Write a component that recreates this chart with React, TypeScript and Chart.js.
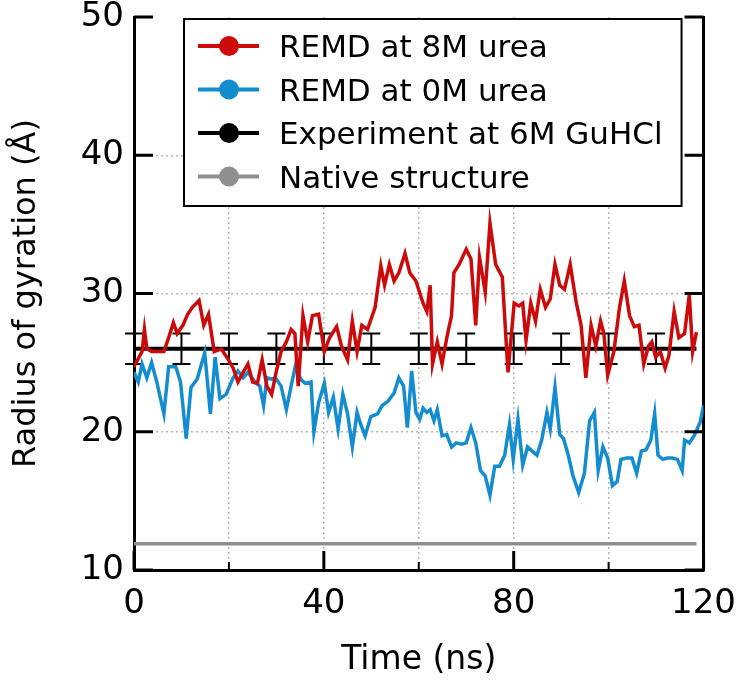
import React, { useEffect, useRef } from "react";
import { Chart, registerables } from "chart.js";

Chart.register(...registerables);

// ---------- data ----------
const seriesLabels = [
  "REMD at 8M urea",
  "REMD at 0M urea",
  "Experiment at 6M GuHCl",
  "Native structure",
];
const seriesColors = ["#cc0a0a", "#148cd0", "#000000", "#8f8f8f"];

const redTime = [
  0.0, 1.7, 2.2, 2.7, 3.7, 5.3, 6.3, 7.3, 8.3, 9.1, 10.3, 11.3, 12.3, 13.7, 14.7, 15.7, 16.9, 18.4, 19.9,
  20.9, 21.9, 23.0, 24.0, 25.0, 26.0, 27.0, 28.0, 29.0, 30.0, 31.0, 32.1, 33.1, 33.9, 34.6, 35.6, 36.6,
  37.6, 38.9, 40.1, 41.2, 42.7, 43.7, 45.0, 46.0, 47.0, 48.0, 49.2, 50.8, 52.0, 52.8, 53.8, 54.8, 55.8,
  57.1, 58.1, 59.4, 60.9, 61.7, 62.4, 62.9, 63.9, 64.9, 65.9, 66.9, 67.4, 68.5, 70.0, 71.0, 72.0, 72.8,
  74.0, 75.0, 76.2, 77.6, 78.8, 80.1, 81.1, 81.9, 82.6, 83.6, 84.6, 85.6, 86.7, 87.7, 88.7, 89.7, 90.7,
  91.9, 93.2, 94.2, 95.2, 96.3, 97.3, 98.3, 99.0, 99.8, 101.1, 102.3, 103.3, 104.4, 105.4, 106.4, 107.4,
  108.4, 109.1, 109.9, 110.9, 111.9, 112.7, 113.8, 114.8, 116.0, 117.0, 117.7, 118.5,
];
const redValue = [
  24.7, 25.8, 27.4, 26.0, 25.8, 25.8, 25.8, 26.8, 27.9, 27.1, 27.7, 28.5, 29.0, 29.5, 27.7, 28.5, 25.8, 26.0, 25.2,
  24.6, 23.6, 24.3, 24.9, 23.6, 23.5, 25.2, 23.3, 22.7, 24.4, 25.8, 26.5, 27.4, 27.1, 23.3, 28.4, 26.5,
  28.4, 28.5, 25.8, 26.8, 27.6, 26.2, 25.2, 28.0, 25.8, 27.7, 27.4, 29.0, 32.0, 30.6, 32.1, 30.9, 31.5,
  32.9, 31.5, 30.9, 29.3, 28.7, 30.6, 24.9, 26.5, 24.9, 26.8, 28.4, 31.5, 32.1, 33.2, 32.5, 27.7, 32.6,
  30.1, 35.1, 32.1, 31.2, 24.3, 29.3, 29.1, 29.3, 26.6, 29.3, 28.0, 30.3, 29.0, 29.6, 32.1, 30.6, 30.3,
  32.1, 29.3, 27.7, 23.9, 27.7, 26.2, 28.0, 27.1, 24.1, 25.8, 29.0, 30.9, 28.4, 27.6, 27.7, 24.9,
  26.2, 26.5, 25.4, 25.8, 24.6, 25.5, 28.7, 26.8, 27.1, 29.9, 25.8, 27.2,
];

const blueTime = [
  0.0, 0.9, 1.7, 2.7, 3.7, 4.8, 6.3, 7.3, 8.8, 9.8, 11.0, 12.0, 13.3, 14.9, 16.1, 17.1, 18.1, 19.4, 20.9,
  21.9, 23.0, 24.0, 25.5, 26.5, 27.3, 28.0, 29.0, 29.8, 31.0, 32.1, 33.1, 34.1, 35.1, 36.1, 37.3, 37.9,
  38.9, 40.1, 41.0, 42.0, 43.0, 44.0, 45.0, 46.0, 47.0, 47.7, 48.7, 49.9, 51.3, 52.3, 53.5, 54.8, 55.8,
  56.8, 57.6, 58.5, 59.4, 60.2, 60.9, 61.7, 62.4, 63.2, 63.9, 64.9, 65.9, 66.9, 67.9, 69.0, 70.0, 71.0,
  72.0, 73.0, 74.0, 75.0, 76.0, 77.0, 78.1, 79.1, 79.9, 80.9, 81.9, 82.9, 83.9, 84.9, 85.9, 87.0, 87.7,
  88.7, 89.7, 90.5, 91.5, 92.5, 93.7, 94.9, 96.0, 97.0, 97.8, 98.8, 99.8, 100.8, 101.8, 102.6, 103.8,
  104.9, 105.9, 106.9, 107.9, 108.9, 109.7, 110.4, 111.4, 112.4, 113.4, 114.5, 115.5, 116.0, 117.0, 118.0,
  119.3, 120.0,
];
const blueValue = [
  24.3, 23.6, 24.9, 23.9, 25.0, 23.6, 21.3, 24.7, 24.7, 23.6, 19.5, 23.2, 23.8, 25.7, 21.3, 25.4, 22.4, 22.7, 23.9,
  24.4, 23.9, 24.3, 23.6, 23.3, 21.9, 23.9, 23.8, 23.9, 23.3, 21.6, 23.3, 24.9, 23.8, 23.5, 23.6, 20.0,
  22.1, 23.5, 21.4, 22.5, 20.2, 22.7, 21.3, 18.9, 21.4, 20.6, 19.7, 21.1, 21.3, 21.9, 22.2, 22.8, 23.9,
  23.3, 20.3, 24.4, 21.4, 20.9, 21.7, 21.4, 21.6, 20.8, 21.6, 19.7, 19.8, 18.9, 19.2, 19.1, 19.2, 20.3,
  19.2, 17.2, 16.8, 15.4, 17.5, 17.5, 18.3, 20.5, 18.0, 20.9, 17.6, 18.9, 18.6, 18.3, 19.4, 21.4, 20.2,
  23.2, 19.8, 19.5, 18.3, 16.8, 15.6, 17.0, 20.8, 21.4, 17.2, 18.9, 18.1, 16.1, 16.4, 18.0, 18.1,
  18.1, 17.0, 18.6, 18.7, 19.4, 21.3, 18.3, 18.0, 18.1, 18.1, 18.0, 17.2, 19.4, 19.2, 19.7,
  20.7, 21.9,
];

const expTime = [0, 118.5];
const expValue = [26, 26];
const errTime = [0, 10, 20, 30, 40, 50, 60, 70, 80, 90, 100, 110];
const errCenter = 26;
const errHalf = 1.1;

const nativeTime = [0, 118.5];
const nativeValue = [11.9, 11.9];

const xMajorTicks = [0, 40, 80, 120];
const xMinorTicks = [20, 60, 100];
const yMajorTicks = [10, 20, 30, 40, 50];
const xGridValues = [20, 40, 60, 80, 100];
const yGridValues = [20, 30, 40];

const FONT = "'DejaVu Sans', 'Liberation Sans', sans-serif";

const pts = (xs: number[], ys: number[]) => xs.map((x, i) => ({ x, y: ys[i] }));

const errorBarPlugin = {
  id: "errorBars",
  afterDatasetDraw(chart: any, args: any) {
    if (args.index !== 2) return;
    const { ctx, scales } = chart;
    const xs = scales.x;
    const ys = scales.y;
    ctx.save();
    ctx.strokeStyle = "#000";
    ctx.lineWidth = 2;
    const yTop = ys.getPixelForValue(errCenter + errHalf);
    const yBot = ys.getPixelForValue(errCenter - errHalf);
    errTime.forEach((t) => {
      const px = xs.getPixelForValue(t);
      ctx.beginPath();
      ctx.moveTo(px, yTop);
      ctx.lineTo(px, yBot);
      ctx.moveTo(px - 9, yTop);
      ctx.lineTo(px + 9, yTop);
      ctx.moveTo(px - 9, yBot);
      ctx.lineTo(px + 9, yBot);
      ctx.stroke();
    });
    ctx.restore();
  },
};

const frameTickPlugin = {
  id: "frameTicks",
  afterDatasetsDraw(chart: any) {
    const { ctx, scales, chartArea } = chart;
    const xs = scales.x;
    const ys = scales.y;
    ctx.save();
    ctx.strokeStyle = "#000";
    ctx.lineWidth = 3;
    ctx.beginPath();
    yMajorTicks.forEach((v) => {
      const py = ys.getPixelForValue(v);
      ctx.moveTo(chartArea.left, py);
      ctx.lineTo(chartArea.left + 19, py);
      ctx.moveTo(chartArea.right, py);
      ctx.lineTo(chartArea.right - 19, py);
    });
    xMajorTicks.forEach((v) => {
      const px = xs.getPixelForValue(v);
      ctx.moveTo(px, chartArea.bottom);
      ctx.lineTo(px, chartArea.bottom - 19);
    });
    ctx.stroke();
    ctx.lineWidth = 2;
    ctx.beginPath();
    xMinorTicks.forEach((v) => {
      const px = xs.getPixelForValue(v);
      ctx.moveTo(px, chartArea.bottom);
      ctx.lineTo(px, chartArea.bottom - 8);
    });
    ctx.stroke();
    ctx.restore();
  },
};

const legendPlugin = {
  id: "boxLegend",
  afterDraw(chart: any) {
    const { ctx, chartArea } = chart;
    const left = chartArea.left + 50;
    const right = chartArea.right - 22;
    const top = chartArea.top + 2;
    const bottom = top + 187;
    ctx.save();
    ctx.fillStyle = "#fff";
    ctx.fillRect(left, top, right - left, bottom - top);
    ctx.strokeStyle = "#000";
    ctx.lineWidth = 2;
    ctx.strokeRect(left, top, right - left, bottom - top);
    const rowStart = top + 27;
    const rowStep = 43.5;
    seriesLabels.forEach((label, i) => {
      const y = rowStart + i * rowStep;
      const color = seriesColors[i];
      ctx.strokeStyle = color;
      ctx.lineWidth = 4;
      ctx.beginPath();
      ctx.moveTo(left + 14, y);
      ctx.lineTo(left + 75, y);
      ctx.stroke();
      ctx.fillStyle = color;
      ctx.beginPath();
      ctx.arc(left + 45, y, 10, 0, Math.PI * 2);
      ctx.fill();
      ctx.fillStyle = "#000";
      ctx.font = `31px ${FONT}`;
      ctx.textBaseline = "middle";
      ctx.textAlign = "left";
      ctx.fillText(label, left + 95, y + 3);
    });
    ctx.restore();
  },
};

export default function App() {
  const canvasRef = useRef<HTMLCanvasElement | null>(null);

  useEffect(() => {
    const canvas = canvasRef.current;
    if (!canvas) return;
    const chart = new Chart(canvas, {
      type: "line",
      data: {
        datasets: [
          {
            label: seriesLabels[0],
            data: pts(redTime, redValue),
            borderColor: seriesColors[0],
            borderWidth: 3.5,
            pointRadius: 0,
            tension: 0,
          },
          {
            label: seriesLabels[1],
            data: pts(blueTime, blueValue),
            borderColor: seriesColors[1],
            borderWidth: 3.5,
            pointRadius: 0,
            tension: 0,
          },
          {
            label: seriesLabels[2],
            data: pts(expTime, expValue),
            borderColor: seriesColors[2],
            borderWidth: 4,
            pointRadius: 0,
          },
          {
            label: seriesLabels[3],
            data: pts(nativeTime, nativeValue),
            borderColor: seriesColors[3],
            borderWidth: 3.5,
            pointRadius: 0,
          },
        ],
      },
      options: {
        responsive: false,
        animation: false,
        devicePixelRatio: 1,
        layout: { padding: { top: 17, right: 46, bottom: 0, left: 0 } },
        plugins: {
          legend: { display: false },
          tooltip: { enabled: false },
        },
        scales: {
          x: {
            type: "linear",
            min: 0,
            max: 120,
            afterFit: (s: any) => {
              s.height = 118;
            },
            afterBuildTicks: (s: any) => {
              s.ticks = [0, 20, 40, 60, 80, 100, 120].map((v) => ({ value: v }));
            },
            ticks: {
              color: "#000",
              font: { family: FONT, size: 34 },
              padding: 14,
              maxRotation: 0,
              autoSkip: false,
              callback: (v: any) => (xMajorTicks.includes(Number(v)) ? String(v) : ""),
            },
            grid: {
              drawTicks: false,
              lineWidth: 1.5,
              color: (c: any) => (xGridValues.includes(c.tick?.value) ? "#b5b5b5" : "rgba(0,0,0,0)"),
            },
            border: { display: true, color: "#000", width: 3, dash: [2, 3] },
            title: {
              display: true,
              text: "Time (ns)",
              color: "#000",
              font: { family: FONT, size: 33 },
              padding: { top: 0, bottom: 8 },
            },
          },
          y: {
            type: "linear",
            position: "left",
            min: 10,
            max: 50,
            afterFit: (s: any) => {
              s.width = 134;
            },
            afterBuildTicks: (s: any) => {
              s.ticks = yMajorTicks.map((v) => ({ value: v }));
            },
            ticks: {
              color: "#000",
              font: { family: FONT, size: 34, lineHeight: 0.35 },
              padding: 10,
            },
            grid: {
              drawTicks: false,
              lineWidth: 1.5,
              color: (c: any) => (yGridValues.includes(c.tick?.value) ? "#b5b5b5" : "rgba(0,0,0,0)"),
            },
            border: { display: true, color: "#000", width: 3, dash: [2, 3] },
            title: {
              display: true,
              text: "Radius of gyration (Å)",
              color: "#000",
              font: { family: FONT, size: 32 },
              padding: { top: 7, bottom: 0 },
            },
          },
          y2: {
            type: "linear",
            position: "right",
            min: 10,
            max: 50,
            afterFit: (s: any) => {
              s.width = 0;
            },
            ticks: { display: false },
            grid: { display: false, drawTicks: false },
            border: { display: true, color: "#000", width: 3 },
          },
        },
      },
      plugins: [errorBarPlugin, frameTickPlugin, legendPlugin],
    } as any);
    return () => chart.destroy();
  }, []);

  return (
    <div style={{ position: "fixed", left: 0, top: 0, width: 750, height: 688, background: "#fff" }}>
      <canvas ref={canvasRef} width={750} height={688} style={{ display: "block" }} />
    </div>
  );
}
